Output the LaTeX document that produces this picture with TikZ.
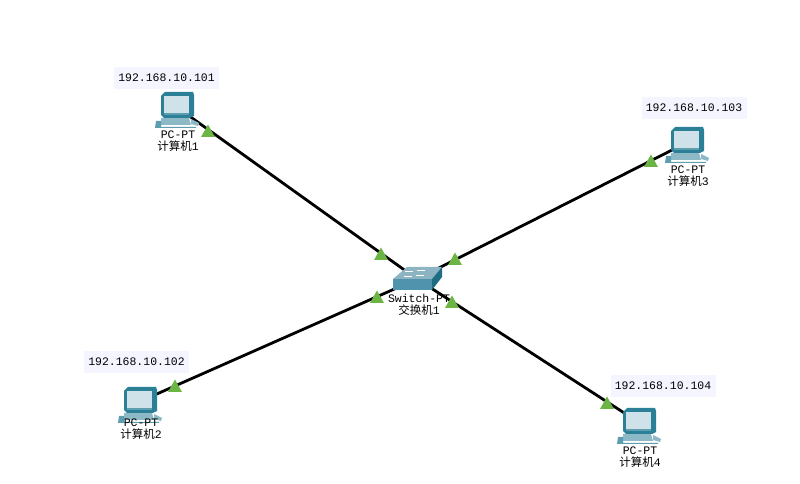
\documentclass[tikz,border=0pt]{standalone}
\usepackage{fontspec}
\setmainfont{Liberation Mono}
\newfontfamily\cjk{Noto Sans CJK SC}
\definecolor{linkgreen}{HTML}{6CB544}
\definecolor{ipbg}{HTML}{F5F5FF}
\definecolor{pcdark}{HTML}{2B7F96}
\definecolor{pcmid}{HTML}{5C9DB0}
\definecolor{pclight}{HTML}{CFE2EA}
\definecolor{pcbase}{HTML}{8DB8C6}
\definecolor{swtop}{HTML}{8DB4C2}
\definecolor{swfront}{HTML}{4F94AC}
\definecolor{swside}{HTML}{1F6C85}
\tikzset{
  x=0.75pt,y=-0.75pt,
  link/.style={line width=2.1pt,black},
  iplabel/.style={fill=ipbg,font=\fontsize{8.6pt}{10pt}\selectfont,inner sep=0pt,minimum width=78.75pt,minimum height=17pt},
  devlabel/.style={font=\fontsize{8.6pt}{9.6pt}\selectfont,align=center,inner sep=0pt,text=black},
  lightpt/.style={fill=linkgreen,draw=none},
  pics/pcicon/.style={code={
    % base and keyboard (origin = centre of the monitor)
    \fill[pcbase] (-14,8) -- (14,8) -- (16,15) -- (-14,15) -- cycle;
    \fill[pcmid] (-19,11) -- (-14,11) -- (-14,17) -- (21,17) -- (21,18) -- (-20,18) -- cycle;
    \fill[pcdark] (-10,-18) -- (18,-18) -- (19,-15) -- (19,6) -- (15,8) -- (-11,8) -- (-14,5) -- (-14,-14) -- cycle;
    \fill[pclight] (-11,-14) -- (14,-14) -- (14,3) -- (-11,3) -- cycle;
    \fill[pcmid] (-11,3) -- (14,3) -- (14,5) -- (-11,5) -- cycle;
    \fill[pcbase] (16,9) -- (24,13) -- (23,16) -- (16,14) -- cycle;
  }},
  pics/lightmark/.style={code={
    \fill[lightpt] (-7,6) -- (0,-6.5) -- (7,6) -- cycle;
  }},
}
\begin{document}
\begin{tikzpicture}
\useasboundingbox (0,0) rectangle (800,484);
% link ends
\coordinate (pc1) at (185,113);
\coordinate (pc2) at (150,397);
\coordinate (pc3) at (680,146);
\coordinate (pc4) at (632,418);
\coordinate (sw) at (417,279);
% links
\draw[link] (pc1) -- (sw);
\draw[link] (pc2) -- (sw);
\draw[link] (pc3) -- (sw);
\draw[link] (pc4) -- (sw);
% link lights
\pic at (208,131) {lightmark};
\pic at (381,254) {lightmark};
\pic at (455,259) {lightmark};
\pic at (377,297) {lightmark};
\pic at (452,302) {lightmark};
\pic at (175,386) {lightmark};
\pic at (651,161) {lightmark};
\pic at (607,403) {lightmark};
% computers
\pic at (175,110) {pcicon};
\pic at (138,405) {pcicon};
\pic at (685,145) {pcicon};
\pic at (637,426) {pcicon};
% switch
\fill[swtop] (393,279) -- (407,267) -- (442,267) -- (432,279) -- cycle;
\fill[swfront] (393,279) -- (432,279) -- (432,290) -- (393,290) -- cycle;
\fill[swside] (432,279) -- (442,267) -- (442,277) -- (432,290) -- cycle;
\draw[white,line width=0.6pt] (404,276) -- (412,276) (417,270) -- (425,270) (416,275) -- (424,275) (405,271) -- (413,271);
% labels
\node[iplabel] (ip1) at (166.5,78) {192.168.10.101};
\node[iplabel] (ip2) at (136.5,362) {192.168.10.102};
\node[iplabel] (ip3) at (694,108) {192.168.10.103};
\node[iplabel] (ip4) at (663,386) {192.168.10.104};
\node[devlabel] (t1) at (178,141) {PC-PT\\[-0.5pt]{\cjk 计算机}1};
\node[devlabel] (t2) at (141,429) {PC-PT\\[-0.5pt]{\cjk 计算机}2};
\node[devlabel] (t3) at (688,176) {PC-PT\\[-0.5pt]{\cjk 计算机}3};
\node[devlabel] (t4) at (640,457) {PC-PT\\[-0.5pt]{\cjk 计算机}4};
\node[devlabel] (t5) at (419,305) {Switch-PT\\[-0.5pt]{\cjk 交换机}1};
\end{tikzpicture}
\end{document}
